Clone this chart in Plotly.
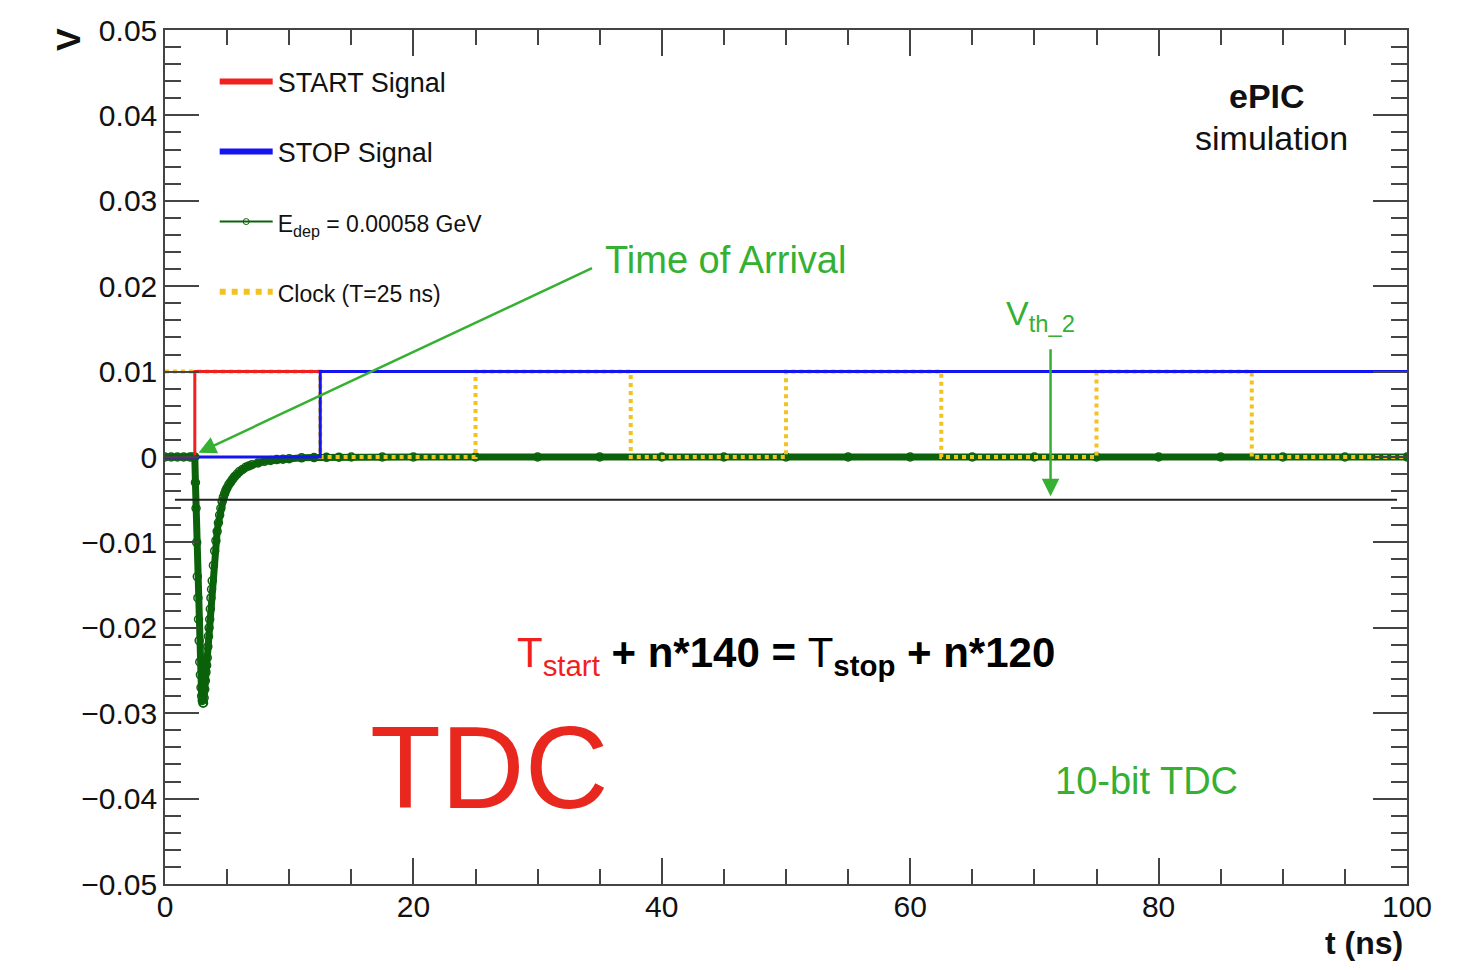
import plotly.graph_objects as go

# ---------------- data ----------------
# START / STOP logic signals (t in ns, V)
start_t = [0, 2.4, 2.4, 100]
start_v = [0, 0, 0.01, 0.01]
stop_t = [0, 12.5, 12.5, 100]
stop_v = [0, 0, 0.01, 0.01]

# clock (T = 25 ns) square wave, amplitude 0.01 V
clock_t = [0, 12.5, 12.5, 25, 25, 37.5, 37.5, 50, 50, 62.5, 62.5, 75, 75, 87.5, 87.5, 100]
clock_v = [0.01, 0.01, 0, 0, 0.01, 0.01, 0, 0, 0.01, 0.01, 0, 0, 0.01, 0.01, 0, 0]

# detector pulse (E_dep = 0.00058 GeV)
pulse_t = [0, 0.5, 1, 1.5, 2, 2.2, 2.4, 2.45, 2.5, 2.55, 2.6, 2.65, 2.7, 2.75, 2.8, 2.85,
           2.9, 2.95, 3.0, 3.05, 3.1, 3.15, 3.2, 3.25, 3.3, 3.35, 3.4, 3.45, 3.5, 3.55,
           3.6, 3.65, 3.7, 3.75, 3.8, 3.9, 4.0, 4.1, 4.2, 4.3, 4.4, 4.5, 4.6, 4.7, 4.8,
           4.9, 5.0, 5.15, 5.3, 5.45, 5.6, 5.8, 6.0, 6.25, 6.5, 6.75, 7.0, 7.5, 8.0, 8.5,
           9.0, 9.5, 10, 11, 12, 13, 14, 15, 17.5, 20, 25, 30, 35, 40,
           45, 50, 55, 60, 65, 70, 75, 80, 85, 90, 95, 100]
pulse_v = [0, 0, 0, 0, 0, 0, 0, -0.003, -0.006, -0.010, -0.014, -0.0165, -0.019, -0.0215,
           -0.024, -0.0255, -0.027, -0.028, -0.0285, -0.0288, -0.0288, -0.0282, -0.0272,
           -0.0262, -0.0252, -0.0244, -0.0235, -0.0222, -0.021, -0.020, -0.019, -0.0178,
           -0.0165, -0.0155, -0.0145, -0.0127, -0.011, -0.0098, -0.0087, -0.0077, -0.0068,
           -0.0060, -0.0052, -0.0047, -0.0043, -0.0039, -0.0036, -0.0032, -0.0029, -0.0026,
           -0.0023, -0.0020, -0.0017, -0.00145, -0.0012, -0.00105, -0.0009, -0.0007,
           -0.0005, -0.0004, -0.0003, -0.00025, -0.0002, -0.0001, -0.00007, -0.00004,
           -0.00002, 0, 0, 0, 0, 0, 0, 0, 0, 0, 0, 0, 0, 0, 0, 0, 0, 0, 0, 0]

# threshold V_th_2
vth_t = [0.8, 99.2]
vth_v = [-0.005, -0.005]

# annotation anchors (data coordinates)
toa_head = (2.7, 0.0005)
toa_tail = (34.5, 0.0222)
vth_arrow_t = 71.3
vth_arrow_top = 0.0128
vth_arrow_tip = -0.0046

RED = "#f21f1f"
BLUE = "#1414f0"
DGREEN = "#0b620b"
GOLD = "#f2c21e"
LGREEN = "#35b032"
FONT = "Liberation Sans, Arial, Helvetica, sans-serif"

fig = go.Figure()

# plot traces (drawn order: pulse, clock, start, stop)
fig.add_trace(go.Scatter(x=pulse_t, y=pulse_v, mode="lines+markers",
                         line=dict(color=DGREEN, width=7),
                         marker=dict(symbol="circle-open", size=8, color=DGREEN,
                                     line=dict(width=1.5, color=DGREEN)),
                         showlegend=False, hoverinfo="skip"))
fig.add_trace(go.Scatter(x=clock_t, y=clock_v, mode="lines",
                         line=dict(color=GOLD, width=4, dash="dot"),
                         showlegend=False, hoverinfo="skip"))
fig.add_trace(go.Scatter(x=start_t, y=start_v, mode="lines",
                         line=dict(color=RED, width=3),
                         showlegend=False, hoverinfo="skip"))
fig.add_trace(go.Scatter(x=stop_t, y=stop_v, mode="lines",
                         line=dict(color=BLUE, width=3),
                         showlegend=False, hoverinfo="skip"))
fig.add_trace(go.Scatter(x=vth_t, y=vth_v, mode="lines",
                         line=dict(color="#222222", width=2),
                         showlegend=False, hoverinfo="skip"))

# legend-only entries
fig.add_trace(go.Scatter(x=[None], y=[None], mode="lines", name="START Signal",
                         legendgroup="a", line=dict(color=RED, width=6)))
fig.add_trace(go.Scatter(x=[None], y=[None], mode="lines", name="STOP Signal",
                         legendgroup="b", line=dict(color=BLUE, width=6)))
fig.add_trace(go.Scatter(x=[None], y=[None], mode="lines+markers",
                         name='<span style="font-size:23px">E<sub>dep</sub> = 0.00058 GeV</span>',
                         legendgroup="c", line=dict(color=DGREEN, width=2),
                         marker=dict(symbol="circle-open", size=6, color=DGREEN)))
fig.add_trace(go.Scatter(x=[None], y=[None], mode="lines",
                         name='<span style="font-size:23px">Clock (T=25 ns)</span>',
                         legendgroup="d", line=dict(color=GOLD, width=6, dash="dot")))

ann = []
# Time of arrival arrow
ann.append(dict(x=toa_head[0], y=toa_head[1], ax=toa_tail[0], ay=toa_tail[1],
                xref="x", yref="y", axref="x", ayref="y", text="", showarrow=True,
                arrowhead=2, arrowsize=1.4, arrowwidth=2.5, arrowcolor=LGREEN))
ann.append(dict(x=toa_tail[0] + 0.8, y=toa_tail[1] + 0.0009, xref="x", yref="y",
                text="Time of Arrival", showarrow=False, xanchor="left", yanchor="middle",
                font=dict(family=FONT, size=38, color=LGREEN)))
# Vth_2 arrow
ann.append(dict(x=vth_arrow_t, y=vth_arrow_tip, ax=vth_arrow_t, ay=vth_arrow_top,
                xref="x", yref="y", axref="x", ayref="y", text="", showarrow=True,
                arrowhead=2, arrowsize=1.4, arrowwidth=2.5, arrowcolor=LGREEN))
ann.append(dict(x=vth_arrow_t - 0.8, y=0.0166, xref="x", yref="y",
                text="V<sub>th_2</sub>", showarrow=False, xanchor="center", yanchor="middle",
                font=dict(family=FONT, size=34, color=LGREEN)))
# equation
ann.append(dict(x=50, y=-0.0232, xref="x", yref="y", showarrow=False,
                text='<span style="color:' + RED + '">T<sub>start</sub></span>'
                     '<b> + n*140 = </b>T<b><sub>stop</sub> + n*120</b>',
                font=dict(family=FONT, size=42, color="#000000")))
# TDC
ann.append(dict(x=26.1, y=-0.0364, xref="x", yref="y", showarrow=False, text="TDC",
                font=dict(family=FONT, size=116, color="#e8281e")))
ann.append(dict(x=79.0, y=-0.0379, xref="x", yref="y", showarrow=False, text="10-bit TDC",
                font=dict(family=FONT, size=38, color=LGREEN)))
# ePIC simulation
ann.append(dict(x=(1267 - 165) / 1242, y=(884 - 96) / 854, xref="paper", yref="paper",
                showarrow=False, xanchor="center", yanchor="middle",
                text="<b>ePIC</b>", font=dict(family=FONT, size=34, color="#111111")))
ann.append(dict(x=(1271 - 165) / 1242, y=(884 - 138) / 854, xref="paper", yref="paper",
                showarrow=False, xanchor="center", yanchor="middle",
                text="simulation", font=dict(family=FONT, size=34, color="#111111")))
# axis titles
ann.append(dict(x=(68 - 165) / 1242, y=(884 - 40) / 854, xref="paper", yref="paper",
                showarrow=False, xanchor="center", yanchor="middle",
                text="<b>V</b>", textangle=-90,
                font=dict(family=FONT, size=34, color="#111111")))
ann.append(dict(x=(1405 - 165) / 1242, y=(884 - 943) / 854, xref="paper", yref="paper",
                showarrow=False, xanchor="right", yanchor="middle",
                text="<b>t (ns)</b>", font=dict(family=FONT, size=32, color="#111111")))
fig.update_layout(annotations=ann)

axis_common = dict(showline=True, linecolor="#444444", linewidth=1.5, mirror="ticks",
                   ticks="inside", tickcolor="#444444", tickwidth=1.5, showgrid=False,
                   zeroline=False, automargin=False,
                   tickfont=dict(family=FONT, size=30, color="#111111"))
fig.update_xaxes(range=[0, 100], dtick=20, tick0=0, ticklen=26, ticklabelstandoff=-5,
                 minor=dict(dtick=5, ticklen=15, ticks="inside", tickcolor="#444444",
                            tickwidth=1.5, showgrid=False),
                 **axis_common)
fig.update_yaxes(range=[-0.05, 0.05], dtick=0.01, tick0=0, ticklen=34,
                 minor=dict(dtick=0.002, ticklen=16, ticks="inside", tickcolor="#444444",
                            tickwidth=1.5, showgrid=False),
                 **axis_common)

fig.update_layout(
    width=1454, height=954, autosize=False,
    margin=dict(l=157, r=55, t=22, b=78),
    paper_bgcolor="white", plot_bgcolor="white",
    legend=dict(x=0.040, y=0.968, xanchor="left", yanchor="top",
                bgcolor="rgba(0,0,0,0)", font=dict(family=FONT, size=27, color="#111111"),
                traceorder="grouped", tracegroupgap=32, itemwidth=53),
    font=dict(family=FONT),
)

fig.write_html("out.html")
